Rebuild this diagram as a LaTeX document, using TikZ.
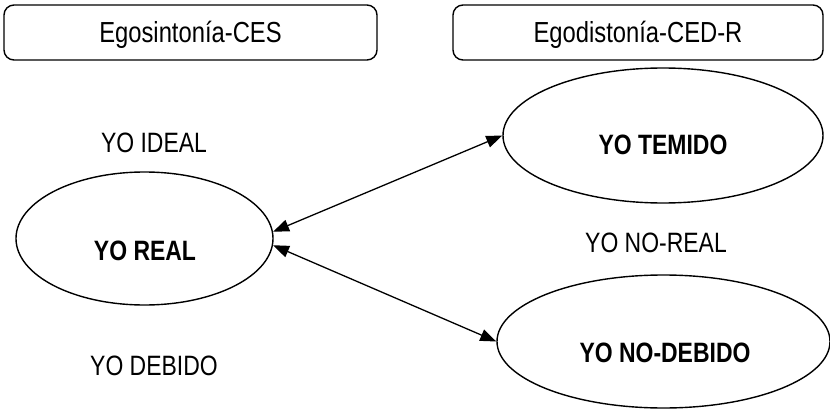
\documentclass[tikz,border=0pt]{standalone}
\usepackage{fontspec}
\setmainfont{Liberation Sans}[FakeStretch=0.82]
\usetikzlibrary{shapes.geometric,arrows.meta}

\tikzset{
  txt/.style={font=\fontsize{28pt}{32pt}\selectfont, inner sep=0pt, anchor=base},
  headtxt/.style={txt, font=\fontsize{29pt}{33pt}\selectfont},
  boldtxt/.style={txt, font=\fontsize{28pt}{32pt}\selectfont\bfseries},
  headbox/.style={draw, line width=1.4pt, rounded corners=10pt, inner sep=0pt},
  selfshape/.style={draw, ellipse, line width=1.4pt, inner sep=0pt},
  link/.style={line width=1.3pt, {Triangle[length=16pt,width=12pt]}-{Triangle[length=16pt,width=12pt]}}
}

\begin{document}
\begin{tikzpicture}[x=1pt,y=-1pt]
\useasboundingbox (0,0) rectangle (830,409);

% header boxes
\node[headbox, minimum width=373pt, minimum height=55pt] (ces) at (190.5,32.5) {};
\node[headbox, minimum width=370pt, minimum height=55pt] (ced) at (638,32.5) {};
\node[headtxt] (cest) at (190.5,42.5) {Egosintonía-CES};
\node[headtxt] (cedt) at (638,42.5) {Egodistonía-CED-R};

% ellipses
\node[selfshape, minimum width=257pt, minimum height=133pt] (real) at (144.5,238.5) {};
\node[selfshape, minimum width=320pt, minimum height=135pt] (temido) at (663,135.5) {};
\node[selfshape, minimum width=333pt, minimum height=133pt] (nodebido) at (663.5,341.5) {};

% ellipse texts
\node[boldtxt] (realt) at (145,260) {YO REAL};
\node[boldtxt] (temidot) at (663,155) {YO TEMIDO};
\node[boldtxt] (nodebidot) at (665,362) {YO NO-DEBIDO};

% free labels
\node[txt] (ideal) at (154,153) {YO IDEAL};
\node[txt] (debido) at (154,375) {YO DEBIDO};
\node[txt] (noreal) at (656,252) {YO NO-REAL};

% connectors
\draw[link] (real.3) -- (temido.west);
\draw[link] (real.-3) -- (nodebido.west);
\end{tikzpicture}
\end{document}
